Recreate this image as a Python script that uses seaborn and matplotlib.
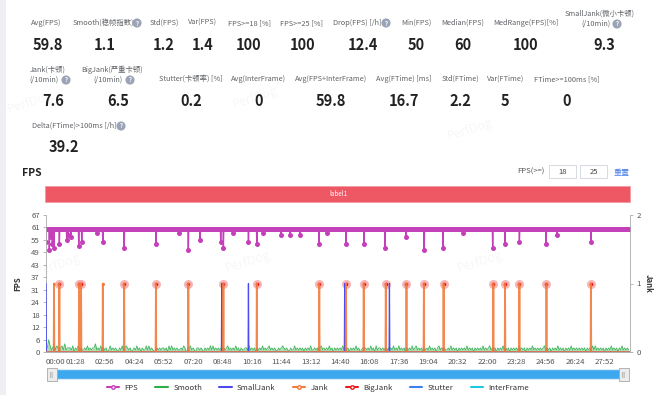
"""
PerfDog style FPS report: summary numbers + FPS / Jank timeline
"""
import matplotlib
matplotlib.use("Agg")
import matplotlib.pyplot as plt
from matplotlib.patches import Rectangle, FancyBboxPatch
from matplotlib.lines import Line2D
import seaborn as sns
import numpy as np

# ---------------- summary table ----------------
row1_labels = ["Avg(FPS)", "Smooth(稳帧指数)", "Std(FPS)", "Var(FPS)", "FPS>=18 [%]",
               "FPS>=25 [%]", "Drop(FPS) [/h]", "Min(FPS)", "Median(FPS)",
               "MedRange(FPS)[%]", "SmallJank(微小卡顿)\n(/10min)"]
row1_values = ["59.8", "1.1", "1.2", "1.4", "100", "100", "12.4", "50", "60", "100", "9.3"]

row2_labels = ["Jank(卡顿)\n(/10min)", "BigJank(严重卡顿)\n(/10min)", "Stutter(卡顿率) [%]",
               "Avg(InterFrame)", "Avg(FPS+InterFrame)", "Avg(FTime) [ms]", "Std(FTime)",
               "Var(FTime)", "FTime>=100ms [%]"]
row2_values = ["7.6", "6.5", "0.2", "0", "59.8", "16.7", "2.2", "5", "0"]

row3_labels = ["Delta(FTime)>100ms [/h]"]
row3_values = ["39.2"]

# ---------------- timeline data (seconds) ----------------
duration_s = 1748
fps_base = 60
fps_dip_t = [0, 10, 14, 19, 24, 40, 62, 67, 75, 98, 107, 152, 170, 234, 329, 399, 426,
             461, 523, 531, 561, 606, 631, 651, 704, 731, 760, 817, 840, 898, 952, 1015,
             1078, 1132, 1188, 1248, 1337, 1374, 1417, 1497, 1529, 1631]
fps_dip_v = [54, 50, 56, 53, 51, 53, 55, 57, 56, 52, 54, 58, 54, 51, 53, 58, 50,
             55, 54, 51, 58, 54, 53, 58, 57, 57, 57, 53, 58, 53, 53, 51,
             56, 50, 51, 58, 51, 53, 54, 53, 57, 54]

# smooth index, one reading every 4 s
smooth_step = 4
smooth_digits = (
    "12631241321231412221302131211213121224121302120131"
    "21210213123212012131202113131210121212212031312121"
    "12132012312102212102121313121212021231212131202112"
    "21312120212131212312121021232121021131212120212131"
    "12120231212131202121213121202121312012121213120312"
    "21212021213121312120212131231212021213121202312121"
    "12131212021212131212021212131212312120212131212021"
    "21213121202121312121212312120212131212021213121212"
    "1212021213131212120212131212021312121"
)
smooth_vals = [int(c) for c in smooth_digits]

jank_t = [24, 40, 99, 105, 170, 234, 329, 426, 531, 631, 818, 898, 951, 1017, 1079,
          1131, 1190, 1339, 1374, 1417, 1498, 1631]
bigjank_t = [40, 99, 105, 234, 329, 426, 531, 631, 818, 898, 951, 1017, 1079,
             1131, 1190, 1339, 1374, 1417, 1498, 1631]
smalljank_t = [0, 526, 606, 894, 1028]
stutter_t = [24, 40, 99, 105, 170, 234, 329, 426, 531, 631, 818, 898, 951, 1017,
             1079, 1131, 1190, 1339, 1374, 1417, 1498, 1631]
stutter_v = [0.06] * len(stutter_t)

fps_tick_labels = ["0", "6", "12", "18", "24", "31", "37", "43", "49", "55", "61", "67"]
x_tick_step = 88

C_FPS = "#c43fba"
C_SMOOTH = "#2fae4a"
C_SMALL = "#4b4bf0"
C_JANK = "#f27a3a"
C_BIG = "#e81c1c"
C_STUT = "#3b82f0"
C_INTER = "#1fc8e0"

# ---------------- figure ----------------
sns.set_style("white")
plt.rcParams["font.family"] = ["Noto Sans CJK SC", "DejaVu Sans"]

W, H = 670, 395
fig = plt.figure(figsize=(W / 100, H / 100), dpi=100)
fig.patch.set_facecolor("white")


def px(x, y):
    return x / W, 1 - y / H


def ptext(x, y, s, **kw):
    fig.text(*px(x, y), s, **kw)


def qmark(x, y):
    ptext(x, y, "?", fontsize=4.3, color="white", ha="center", va="center",
          weight="bold", bbox=dict(boxstyle="circle,pad=0.18", fc="#9ba4b6", ec="none"))


# left sidebar strip
fig.patches.append(Rectangle(px(0, 395), 6 / W, 1, transform=fig.transFigure,
                             fc="#eef0f4", ec="none"))

LBL = dict(fontsize=5.3, color="#606266", ha="center", va="center")
VAL = dict(fontsize=10.5, color="#222222", ha="center", va="center", weight="bold")


def label(x, y, s):
    # two-line labels are written line by line
    lines = s.split("\n")
    if len(lines) == 1:
        ptext(x, y, s, **LBL)
    else:
        ptext(x, y - 5, lines[0], **LBL)
        ptext(x - 4, y + 5, lines[1], **LBL)


row1_lx = [46, 103, 164, 202, 249, 302, 357, 416, 463, 526, 600]
row1_vx = [48, 105, 164, 203, 249, 303, 363, 416, 463, 526, 604]
for lab, val, lx, vx in zip(row1_labels, row1_values, row1_lx, row1_vx):
    label(lx, 19 if "\n" in lab else 23, lab)
    ptext(vx, 45, val, **VAL)
qmark(137, 23)
qmark(386, 23)
qmark(617, 24)

row2_lx = [48, 112, 191, 258, 331, 404, 460, 506, 567]
row2_vx = [53, 118, 191, 259, 331, 404, 460, 505, 567]
for lab, val, lx, vx in zip(row2_labels, row2_values, row2_lx, row2_vx):
    label(lx, 75 if "\n" in lab else 79, lab)
    ptext(vx, 101, val, **VAL)
qmark(66, 80)
qmark(130, 80)

ptext(74, 126, row3_labels[0], **LBL)
qmark(121, 126)
ptext(64, 147, row3_values[0], **VAL)

# watermarks
for wx, wy in [(30, 103), (255, 98), (470, 130), (58, 265), (248, 262), (480, 262)]:
    ptext(wx, wy, "PerfDog", fontsize=9, color="#000000", alpha=0.035, rotation=18,
          ha="center", va="center")

# chart header
ptext(22, 173, "FPS", fontsize=7.5, weight="bold", color="#222", ha="left", va="center")
ptext(545, 172, "FPS(>=)", fontsize=5.5, color="#555", ha="right", va="center")
for bx, s in [(549, "18"), (580, "25")]:
    fig.patches.append(Rectangle(px(bx, 178), 27 / W, 13 / H, transform=fig.transFigure,
                                 fc="white", ec="#d0d4dc", lw=0.6))
    ptext(bx + 13.5, 171.5, s, fontsize=5.5, color="#444", ha="center", va="center")
ptext(622, 172, "重置", fontsize=5.8, color="#4a7ee6", ha="center", va="center")

# label banner
fig.patches.append(Rectangle(px(45, 202), 585 / W, 16 / H, transform=fig.transFigure,
                             fc="#ee5764", ec="#f39aa2", lw=0.6))
ptext(338, 194, "label1", fontsize=4.5, color="white", ha="center", va="center")

# ---------------- main axes ----------------
ax = fig.add_axes([46 / W, 1 - 352 / H, 584 / W, 137 / H])
t = np.arange(duration_s)
fps = np.full(duration_s, float(fps_base))
fps[fps_dip_t] = fps_dip_v

smooth_t = np.arange(len(smooth_vals)) * smooth_step
ax.fill_between(smooth_t, 0, smooth_vals, color=C_SMOOTH, alpha=0.4, lw=0)
sns.lineplot(x=smooth_t, y=smooth_vals, ax=ax, color=C_SMOOTH, lw=0.6, alpha=0.9,
             estimator=None)
sns.lineplot(x=t, y=fps, ax=ax, color=C_FPS, lw=1.0, marker="o", markersize=3.6,
             markeredgewidth=0, estimator=None)

ax.set_xlim(0, duration_s)
ax.set_ylim(0, 67)
ax.set_yticks(np.linspace(0, 67, 12))
ax.set_yticklabels(fps_tick_labels)
xt = np.arange(0, duration_s - 60, x_tick_step)
ax.set_xticks(xt)
ax.set_xticklabels([f"{v // 60:02d}:{v % 60:02d}" for v in xt])
ax.get_xticklabels()[0].set_horizontalalignment("left")
ax.tick_params(axis="both", labelsize=5.6, colors="#555", length=2.5, width=0.6, pad=2)
ax.tick_params(axis="both", color="#aaa")
ax.set_xlabel("")
ax.set_ylabel("FPS", fontsize=5.6, weight="bold", color="#333", labelpad=6)
for s in ["top", "right"]:
    ax.spines[s].set_visible(False)
for s in ["left", "bottom"]:
    ax.spines[s].set_color("#aaa")
    ax.spines[s].set_linewidth(0.6)

# right axis : jank family
ax2 = ax.twinx()
inter = np.zeros(duration_s)
sns.lineplot(x=t, y=inter, ax=ax2, color=C_INTER, lw=0.8, estimator=None)

stut = np.zeros(duration_s)
stut[stutter_t] = stutter_v
sns.lineplot(x=t, y=stut, ax=ax2, color=C_STUT, lw=1.0, estimator=None)

small = np.zeros(duration_s)
small[smalljank_t] = 1
sns.lineplot(x=t, y=small, ax=ax2, color=C_SMALL, lw=0.9, estimator=None)

jank = np.zeros(duration_s)
jank[jank_t] = 1
sns.lineplot(x=t, y=jank, ax=ax2, color=C_JANK, lw=1.3, alpha=0.9, estimator=None)
sns.scatterplot(x=jank_t, y=[1] * len(jank_t), ax=ax2, color=C_JANK, s=5, lw=0)

sns.scatterplot(x=bigjank_t, y=[1] * len(bigjank_t), ax=ax2, color="#f4a3a3", s=42,
                lw=0, alpha=0.8)
sns.scatterplot(x=bigjank_t, y=[1] * len(bigjank_t), ax=ax2, color=C_BIG, s=7, lw=0)

ax2.set_ylim(0, 2)
ax2.set_yticks([0, 1, 2])
ax2.set_yticklabels(["0", "1", "2"])
ax2.tick_params(axis="y", labelsize=5.6, colors="#555", length=2.5, width=0.6, pad=2)
ax2.tick_params(axis="y", color="#aaa")
ax2.set_ylabel("Jank", fontsize=5.6, weight="bold", color="#333", rotation=-90,
               labelpad=9)
for s in ["top", "left", "bottom"]:
    ax2.spines[s].set_visible(False)
ax2.spines["right"].set_color("#aaa")
ax2.spines["right"].set_linewidth(0.6)
ax2.set_xlim(0, duration_s)

# ---------------- zoom slider ----------------
fig.patches.append(FancyBboxPatch(px(50, 379), 575 / W, 9 / H, transform=fig.transFigure,
                                  boxstyle="round,pad=0,rounding_size=0.002",
                                  fc="#3ea8ee", ec="#8fcaf4", lw=0.5))
for hx in [47, 619]:
    fig.patches.append(Rectangle(px(hx, 381), 10 / W, 13 / H, transform=fig.transFigure,
                                 fc="#ececec", ec="#a8a8a8", lw=0.6))
    ptext(hx + 5, 374.5, "|||", fontsize=3.5, color="#888", ha="center", va="center")

# ---------------- legend ----------------
handles = [
    Line2D([], [], color=C_FPS, lw=1.5, marker="o", markersize=2.5, mfc="white"),
    Line2D([], [], color=C_SMOOTH, lw=1.5),
    Line2D([], [], color=C_SMALL, lw=1.5),
    Line2D([], [], color=C_JANK, lw=1.5, marker="o", markersize=2.5, mfc="white"),
    Line2D([], [], color=C_BIG, lw=1.5, marker="o", markersize=2.5, mfc="white"),
    Line2D([], [], color=C_STUT, lw=1.5),
    Line2D([], [], color=C_INTER, lw=1.5),
]
names = ["FPS", "Smooth", "SmallJank", "Jank", "BigJank", "Stutter", "InterFrame"]
fig.legend(handles, names, loc="center", bbox_to_anchor=(318 / W, 1 - 388 / H), ncol=7,
           frameon=False, fontsize=5.6, handlelength=1.6, columnspacing=2.2,
           handletextpad=0.7, labelcolor="#333")

fig.savefig("out.png", dpi=100)
